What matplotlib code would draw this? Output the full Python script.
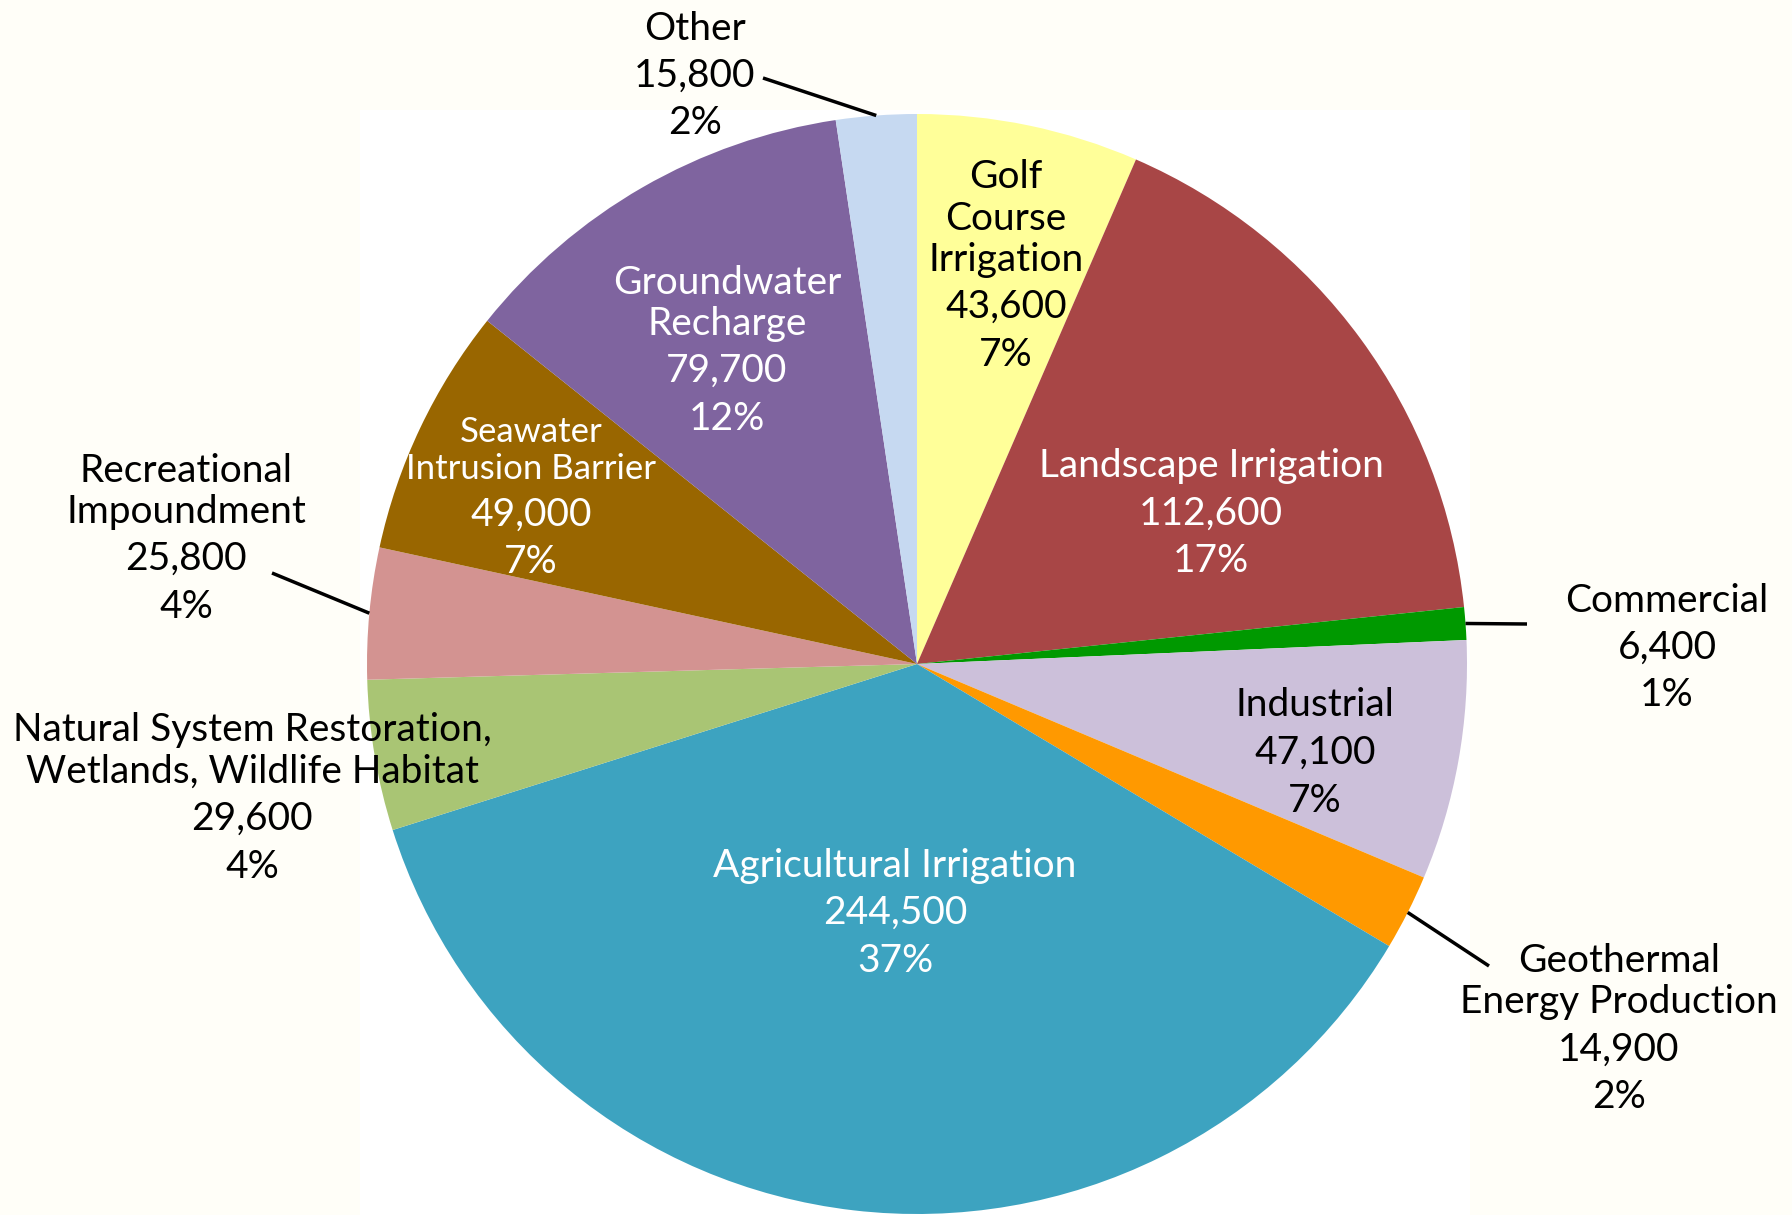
import numpy as np
import matplotlib
matplotlib.use("Agg")
import matplotlib.pyplot as plt
from matplotlib.patches import Rectangle

plt.rcParams['font.family'] = ['Lato', 'DejaVu Sans']

# recycled water use by category (acre-feet per year), clockwise from top
categories = ["Golf\nCourse\nIrrigation", "Landscape Irrigation", "Commercial", "Industrial",
              "Geothermal\nEnergy Production", "Agricultural Irrigation",
              "Natural System Restoration,\nWetlands, Wildlife Habitat",
              "Recreational\nImpoundment", "Seawater\nIntrusion Barrier",
              "Groundwater\nRecharge", "Other"]
values = [43600, 112600, 6400, 47100, 14900, 244500, 29600, 25800, 49000, 79700, 15800]
colors = ["#FFFF99", "#A84646", "#009900", "#CCC0DA", "#FF9900", "#3DA3C0",
          "#A9C574", "#D39391", "#996600", "#7F649F", "#C6D9F1"]

W, H = 1792, 1215
fig = plt.figure(figsize=(W / 100, H / 100), dpi=100, facecolor="#FFFEF8")
ax = fig.add_axes([0, 0, 1, 1])

cx, cy, R = 917, H - 664, 550
ax.add_patch(Rectangle((360, 0), 1110, H - 110, facecolor="white", edgecolor="none", zorder=0))

wedges, _ = ax.pie(values, colors=colors, startangle=90, counterclock=False,
                   center=(cx, cy), radius=R, wedgeprops=dict(linewidth=0))

ax.set_xlim(0, W)
ax.set_ylim(0, H)
ax.set_aspect("equal")
ax.axis("off")

total = sum(values)
FS = 28
NAME_GAP = 41     # px between lines of a category name
PARA_GAP = 47.5   # px between name / value / percent

# label placement: (x, first line y from top, text colour, name font size, leader end or None)
layout = [
    (1006, 174, "black", FS, None),
    (1211, 463, "white", FS, None),
    (1667, 597, "black", FS, (1527, 624)),
    (1315, 702, "black", FS, None),
    (1619, 958, "black", FS, (1489, 966)),
    (895, 862, "white", FS, None),
    (252, 727, "black", FS, None),
    (186, 467, "black", FS, (272, 573)),
    (531, 429, "white", 25, None),
    (727, 279, "white", FS, None),
    (695, 25, "black", FS, (763, 78)),
]

for name, v, w, (x, y, tc, nfs, lead) in zip(categories, values, wedges, layout):
    pct = round(100 * v / total)
    gap = NAME_GAP * nfs / FS
    lines = name.split("\n")
    for i, line in enumerate(lines):
        ax.text(x, H - (y + i * gap), line, ha="center", va="center_baseline",
                fontsize=nfs, color=tc)
    y_last = y + (len(lines) - 1) * gap
    if nfs != FS:
        y_last -= 2
    for j, line in enumerate([f"{v:,}", f"{pct}%"]):
        ax.text(x, H - (y_last + (j + 1) * PARA_GAP), line, ha="center",
                va="center_baseline", fontsize=FS, color=tc)
    if lead is not None:
        mid = np.deg2rad((w.theta1 + w.theta2) / 2)
        x0, y0 = cx + R * np.cos(mid), cy + R * np.sin(mid)
        ax.plot([x0, lead[0]], [y0, H - lead[1]], color="black", lw=2.5,
                solid_capstyle="butt")

fig.savefig("out.png", dpi=100, facecolor=fig.get_facecolor())
